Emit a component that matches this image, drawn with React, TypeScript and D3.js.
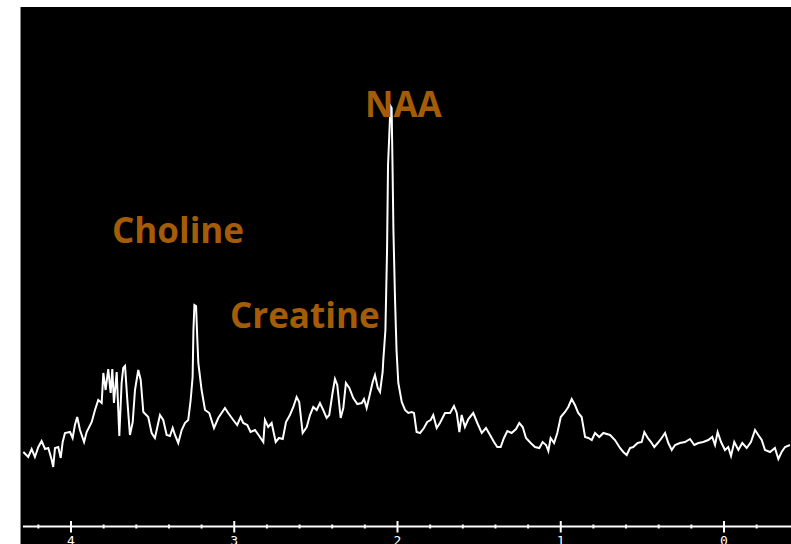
import React from "react";
import * as d3 from "d3";

// chemical shift (ppm) and signal amplitude
const ppm: number[] = [
  4.292, 4.262, 4.241, 4.221, 4.2, 4.18, 4.159, 4.139, 4.118, 4.109, 4.098, 4.078, 4.063, 4.051, 4.037, 4.006,
  3.99, 3.976, 3.962, 3.945, 3.92, 3.904, 3.873, 3.853, 3.833, 3.812, 3.802, 3.788, 3.772, 3.757, 3.747, 3.737,
  3.72, 3.704, 3.69, 3.68, 3.669, 3.655, 3.639, 3.622, 3.608, 3.588, 3.573, 3.557, 3.527, 3.506, 3.486, 3.471,
  3.455, 3.435, 3.414, 3.394, 3.377, 3.363, 3.343, 3.322, 3.302, 3.282, 3.267, 3.255, 3.25, 3.244, 3.234, 3.226,
  3.22, 3.2, 3.179, 3.153, 3.124, 3.098, 3.057, 3.037, 3.006, 2.982, 2.961, 2.945, 2.92, 2.9, 2.873, 2.847,
  2.822, 2.812, 2.792, 2.771, 2.746, 2.726, 2.703, 2.683, 2.659, 2.638, 2.618, 2.602, 2.581, 2.556, 2.536, 2.516,
  2.495, 2.475, 2.455, 2.434, 2.418, 2.397, 2.383, 2.369, 2.348, 2.332, 2.316, 2.295, 2.271, 2.246, 2.219, 2.205,
  2.189, 2.173, 2.152, 2.138, 2.121, 2.107, 2.091, 2.087, 2.074, 2.064, 2.058, 2.049, 2.043, 2.036, 2.031, 2.025,
  2.015, 2.006, 1.995, 1.974, 1.954, 1.934, 1.913, 1.899, 1.883, 1.862, 1.838, 1.818, 1.797, 1.781, 1.76, 1.74,
  1.709, 1.678, 1.654, 1.637, 1.621, 1.607, 1.587, 1.566, 1.536, 1.511, 1.484, 1.458, 1.433, 1.409, 1.389, 1.368,
  1.348, 1.327, 1.301, 1.274, 1.254, 1.233, 1.213, 1.184, 1.158, 1.131, 1.111, 1.09, 1.076, 1.062, 1.041, 1.021,
  1.0, 0.974, 0.954, 0.933, 0.913, 0.893, 0.872, 0.851, 0.831, 0.81, 0.79, 0.764, 0.739, 0.698, 0.668, 0.637,
  0.617, 0.596, 0.576, 0.556, 0.529, 0.504, 0.488, 0.467, 0.447, 0.427, 0.406, 0.382, 0.361, 0.341, 0.32, 0.3,
  0.27, 0.239, 0.208, 0.182, 0.157, 0.127, 0.096, 0.072, 0.055, 0.039, 0.018, -0.006, -0.026, -0.043, -0.063, -0.088,
  -0.112, -0.139, -0.165, -0.19, -0.21, -0.231, -0.251, -0.282, -0.312, -0.333, -0.353, -0.374, -0.404,
];
const amplitude: number[] = [
  18, 13, 21, 13, 23, 29, 21, 22, 10, 3, 22, 23, 12, 28, 37, 38,
  32, 45, 53, 40, 28, 38, 48, 60, 70, 67, 97, 80, 101, 77, 101, 67,
  98, 34, 87, 102, 104, 70, 35, 48, 80, 100, 90, 58, 53, 37, 32, 43,
  55, 50, 35, 34, 42, 35, 27, 40, 47, 50, 70, 93, 140, 165, 164, 130,
  107, 80, 60, 57, 42, 52, 62, 57, 50, 45, 53, 47, 45, 38, 40, 34,
  28, 50, 43, 47, 28, 32, 31, 48, 55, 63, 73, 68, 37, 43, 55, 63,
  60, 67, 60, 52, 55, 78, 91, 85, 52, 62, 87, 82, 72, 66, 67, 71,
  62, 73, 88, 95, 82, 78, 98, 110, 140, 220, 305, 340, 364, 362, 310, 240,
  170, 120, 87, 68, 60, 57, 58, 57, 38, 37, 42, 48, 50, 55, 42, 47,
  57, 57, 64, 57, 38, 55, 43, 51, 57, 47, 37, 42, 35, 28, 23, 23,
  32, 39, 37, 41, 47, 43, 32, 27, 23, 22, 28, 25, 19, 32, 27, 37,
  53, 58, 63, 71, 65, 57, 53, 33, 32, 30, 37, 33, 37, 35, 30, 22,
  18, 15, 22, 23, 27, 28, 38, 32, 28, 23, 27, 32, 37, 27, 20, 25,
  27, 28, 31, 25, 27, 28, 30, 33, 25, 38, 28, 20, 23, 14, 28, 20,
  27, 22, 28, 40, 35, 30, 20, 18, 22, 11, 18, 23, 25,
];

const majorTicks: number[] = [4, 3, 2, 1, 0];
const tickLabels: string[] = ["4", "3", "2", "1", "0"];
const minorTicks: number[] = [4.2, 3.8, 3.6, 3.4, 3.2, 2.8, 2.6, 2.4, 2.2, 1.8, 1.6, 1.4, 1.2, 0.8, 0.6, 0.4, 0.2, -0.2];

const peakNames: string[] = ["Choline", "Creatine", "NAA"];
const peakPpm: number[] = [3.749, 3.026, 2.199];
const peakAmp: number[] = [227, 142, 353];

export default function App() {
  const W = 791;
  const H = 544;
  const x = d3.scaleLinear().domain([4, 0]).range([71, 724]);
  const y = d3.scaleLinear().domain([0, 364]).range([470, 106]);
  const pts: [number, number][] = ppm.map((p, i) => [p, amplitude[i]]);
  const line = d3
    .line<[number, number]>()
    .x((d) => x(d[0]))
    .y((d) => y(d[1]))
    .curve(d3.curveLinear);
  const axisY = 526.5;

  return (
    <svg
      width={W}
      height={H}
      style={{ position: "absolute", left: 0, top: 0, background: "#fff" }}
    >
      <rect x={20} y={7} width={W - 20} height={H - 7} fill="#000" />
      <line x1={20.5} x2={20.5} y1={7} y2={H} stroke="#8a8a8a" strokeWidth={1} />
      <path d={line(pts) || ""} fill="none" stroke="#fff" strokeWidth={2} strokeLinejoin="miter" />
      {/* axis */}
      <line x1={23} x2={W} y1={axisY} y2={axisY} stroke="#fff" strokeWidth={2} />
      {majorTicks.map((t, i) => (
        <g key={"M" + t}>
          <line x1={x(t)} x2={x(t)} y1={axisY - 5.5} y2={axisY + 6} stroke="#fff" strokeWidth={2} />
          <text
            x={x(t)}
            y={545}
            fill="#fff"
            fontSize={13}
            fontFamily="DejaVu Sans Mono, monospace"
            textAnchor="middle"
          >
            {tickLabels[i]}
          </text>
        </g>
      ))}
      {minorTicks.map((t) => (
        <rect key={"m" + t} x={x(t) - 1} y={axisY - 2} width={2} height={4} fill="#fff" />
      ))}
      {peakNames.map((n, i) => (
        <text
          key={n}
          x={x(peakPpm[i])}
          y={y(peakAmp[i])}
          fill="#a55c06"
          fontSize={35}
          fontWeight="bold"
          fontFamily="Open Sans, Noto Sans, sans-serif"
        >
          {n}
        </text>
      ))}
    </svg>
  );
}
